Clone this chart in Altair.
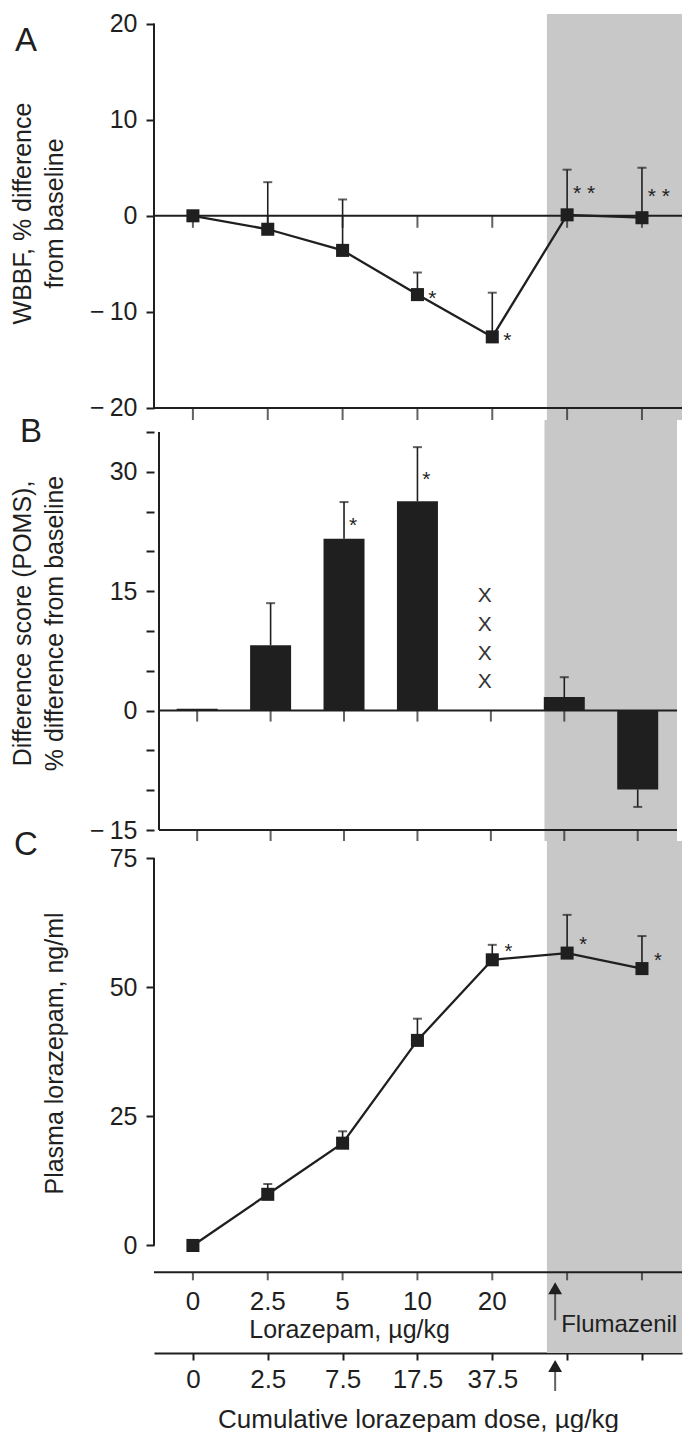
import json
import altair as alt
import pandas as pd

# ---------------- data ----------------
positions = [0, 1, 2, 3, 4, 5, 6]
dose_tick_labels = ["0", "2.5", "5", "10", "20", "", ""]
cumulative_tick_labels = ["0", "2.5", "7.5", "17.5", "37.5", "", ""]

# Panel A: WBBF, % difference from baseline
wbbf_mean = [0.0, -1.4, -3.6, -8.2, -12.6, 0.1, -0.2]
wbbf_upper = [None, 3.5, 1.7, -5.9, -8.0, 4.8, 5.0]
wbbf_sig = ["", "", "", "*", "*", "* *", "* *"]

# Panel B: POMS difference score
poms_positions = [0, 1, 2, 3, 5, 6]
poms_value = [0.25, 8.2, 21.6, 26.3, 1.7, -9.9]
poms_err_end = [None, 13.5, 26.2, 33.1, 4.2, -12.1]
poms_sig = ["", "", "*", "*", "", ""]
poms_missing_position = 4
poms_missing_marks = ["X", "X", "X", "X"]
poms_missing_y = [14.4, 10.7, 7.1, 3.6]

# Panel C: plasma lorazepam, ng/ml
plasma_mean = [0.0, 9.9, 19.8, 39.7, 55.3, 56.6, 53.6]
plasma_upper = [None, 11.9, 22.1, 43.9, 58.2, 64.0, 59.9]
plasma_sig = ["", "", "", "", "*", "*", "*"]

flumazenil_start = 4.73
flumazenil_arrow = 4.84

# ---------------- style / layout ----------------
FONT = "Liberation Sans"
INK = "#1f1f1f"
SHADE = "#c8c8c8"
W = 528
X_LO, X_HI = -0.52, 6.535
A_LO, A_HI, A_H = -21.25, 21.0, 406
B_LO, B_HI, B_H = -16.38, 36.51, 421
C_LO, C_HI, C_H = -20.82, 78.3, 512
LORAZ_AXIS_Y = -5.2

NEG_LABEL = "datum.value < 0 ? '\u2212\u2009' + format(-datum.value, '') : datum.label"

xs = alt.Scale(domain=[X_LO, X_HI], nice=False, zero=False)


def y_axis(values, title, label_expr=NEG_LABEL, title_y=None):
    kw = dict(values=values, title=title, domain=False, grid=False, ticks=True,
              tickSize=8, tickWidth=2, tickColor=INK, labelFont=FONT, labelFontSize=25,
              labelColor=INK, labelPadding=9, labelFlush=False, titleFont=FONT,
              titleFontSize=25, titleFontWeight="normal", titleColor=INK,
              titlePadding=12, titleLineHeight=32, minExtent=75, maxExtent=75,
              labelExpr=label_expr)
    if title_y is not None:
        kw["titleY"] = title_y
    return alt.Axis(**kw)


cum_axis = alt.Axis(values=positions,
                    labelExpr=f"{json.dumps(cumulative_tick_labels)}[datum.value]",
                    title="Cumulative lorazepam dose, µg/kg", domain=True, domainColor=INK,
                    domainWidth=2, ticks=True, tickSize=7, tickWidth=2, tickColor=INK,
                    labelFont=FONT, labelFontSize=26, labelColor=INK, labelPadding=6,
                    labelFlush=False, titleFont=FONT, titleFontSize=26,
                    titleFontWeight="normal", titleColor=INK, titlePadding=14, grid=False)


def make_panel(lo, hi, axis_line_lo, axis_line_hi, yaxis, xaxis, hlines,
               tick_size, letter, letter_dy):
    ys = alt.Scale(domain=[lo, hi], nice=False, zero=False)

    def X(f):
        return alt.X(f"{f}:Q", scale=xs, axis=xaxis)

    def Y(f):
        return alt.Y(f"{f}:Q", scale=ys, axis=yaxis)

    layers = []
    shade_df = pd.DataFrame({"x": [flumazenil_start], "x2": [X_HI], "y": [lo], "y2": [hi]})
    layers.append(alt.Chart(shade_df).mark_rect(color=SHADE).encode(
        x=X("x"), x2="x2", y=Y("y"), y2="y2"))
    hl_df = pd.DataFrame({"x": [X_LO] * len(hlines), "x2": [X_HI] * len(hlines), "y": hlines})
    layers.append(alt.Chart(hl_df).mark_rule(color=INK, strokeWidth=2).encode(
        x=X("x"), x2="x2", y=Y("y")))
    tk_df = pd.DataFrame([{"pos": p, "y": h} for h in hlines for p in positions])
    layers.append(alt.Chart(tk_df).mark_tick(orient="vertical", size=tick_size, thickness=2,
                                             yOffset=tick_size / 2, color=INK).encode(
        x=X("pos"), y=Y("y")))
    ax_df = pd.DataFrame({"x": [X_LO], "y": [axis_line_lo], "y2": [axis_line_hi]})
    layers.append(alt.Chart(ax_df).mark_rule(color=INK, strokeWidth=2).encode(
        x=X("x"), y=Y("y"), y2="y2"))
    let_df = pd.DataFrame({"x": [X_LO], "y": [hi], "t": [letter]})
    layers.append(alt.Chart(let_df).mark_text(font=FONT, fontSize=33, color=INK, dx=-128,
                                              dy=letter_dy, align="center",
                                              baseline="middle").encode(
        x=X("x"), y=Y("y"), text="t:N"))
    return X, Y, layers


# ---------------- Panel A ----------------
XA, YA, la = make_panel(A_LO, A_HI, -20, 20,
                        y_axis([-20, -10, 0, 10, 20], ["WBBF, % difference", "from baseline"],
                               title_y=199),
                        None, [-20, 0], 12, "A", 27)
dfA = pd.DataFrame({"pos": positions, "mean": wbbf_mean, "upper": wbbf_upper, "sig": wbbf_sig})
errA = alt.Chart(dfA).transform_filter("datum.upper != null")
la += [
    errA.mark_rule(color=INK, strokeWidth=1.6).encode(x=XA("pos"), y=YA("mean"), y2="upper"),
    errA.mark_tick(orient="horizontal", size=9, thickness=2, color=INK).encode(
        x=XA("pos"), y=YA("upper")),
    alt.Chart(dfA).mark_line(color=INK, strokeWidth=2.3).encode(x=XA("pos"), y=YA("mean")),
    alt.Chart(dfA).mark_square(color=INK, size=170, opacity=1).encode(x=XA("pos"), y=YA("mean")),
    alt.Chart(dfA).transform_filter("datum.sig == '*'").mark_text(
        font=FONT, fontSize=21, color=INK, dx=15, dy=10, baseline="alphabetic").encode(
        x=XA("pos"), y=YA("mean"), text="sig:N"),
    alt.Chart(dfA).transform_filter("datum.sig == '* *'").mark_text(
        font=FONT, fontSize=21, color=INK, dx=17, dy=-15, baseline="alphabetic").encode(
        x=XA("pos"), y=YA("mean"), text="sig:N"),
]
panelA = alt.layer(*la).properties(width=W, height=A_H)

# ---------------- Panel B ----------------
XB, YB, lb = make_panel(B_LO, B_HI, -15, 35,
                        y_axis(list(range(-15, 40, 5)),
                               ["Difference score (POMS),", "% difference from baseline"],
                               label_expr="datum.value % 15 == 0 ? (" + NEG_LABEL + ") : ''",
                               title_y=203),
                        None, [0, -15], 11, "B", 12)
dfB = pd.DataFrame({"pos": poms_positions, "value": poms_value, "err": poms_err_end,
                    "sig": poms_sig})
errB = alt.Chart(dfB).transform_filter("datum.err != null")
dfX = pd.DataFrame({"pos": [poms_missing_position] * len(poms_missing_y),
                    "y": poms_missing_y, "t": poms_missing_marks})
lb += [
    alt.Chart(dfB).mark_bar(size=41, color=INK, orient="vertical").encode(
        x=XB("pos"), y=YB("value"), y2=alt.datum(0)),
    errB.mark_rule(color=INK, strokeWidth=1.6).encode(x=XB("pos"), y=YB("value"), y2="err"),
    errB.mark_tick(orient="horizontal", size=9, thickness=2, color=INK).encode(
        x=XB("pos"), y=YB("err")),
    alt.Chart(dfB).transform_filter("datum.sig == '*'").transform_calculate(
        mid="(datum.value + datum.err) / 2").mark_text(
        font=FONT, fontSize=21, color=INK, dx=9, dy=12, baseline="alphabetic").encode(
        x=XB("pos"), y=YB("mid"), text="sig:N"),
    alt.Chart(dfX).mark_text(font=FONT, fontSize=21, color="#333333", dx=-6,
                             baseline="middle").encode(x=XB("pos"), y=YB("y"), text="t:N"),
]
panelB = alt.layer(*lb).properties(width=W, height=B_H)

# ---------------- Panel C ----------------
XC, YC, lc = make_panel(C_LO, C_HI, 0, 75,
                        y_axis([0, 25, 50, 75], "Plasma lorazepam, ng/ml", title_y=212),
                        cum_axis, [LORAZ_AXIS_Y], 8, "C", 4)
dfC = pd.DataFrame({"pos": positions, "mean": plasma_mean, "upper": plasma_upper,
                    "sig": plasma_sig})
errC = alt.Chart(dfC).transform_filter("datum.upper != null")
dose_df = pd.DataFrame({"pos": positions, "t": dose_tick_labels, "y": LORAZ_AXIS_Y})
dose_title_df = pd.DataFrame({"pos": [sum(positions[:5]) / 5], "y": [LORAZ_AXIS_Y],
                              "t": ["Lorazepam, µg/kg"]})
flu_df = pd.DataFrame({"pos": [flumazenil_arrow], "y": [LORAZ_AXIS_Y], "t": ["Flumazenil"]})
arrow_low_df = pd.DataFrame({"pos": [flumazenil_arrow], "y": [C_LO]})
lc += [
    errC.mark_rule(color=INK, strokeWidth=1.6).encode(x=XC("pos"), y=YC("mean"), y2="upper"),
    errC.mark_tick(orient="horizontal", size=9, thickness=2, color=INK).encode(
        x=XC("pos"), y=YC("upper")),
    alt.Chart(dfC).mark_line(color=INK, strokeWidth=2.3).encode(x=XC("pos"), y=YC("mean")),
    alt.Chart(dfC).mark_square(color=INK, size=170, opacity=1).encode(x=XC("pos"), y=YC("mean")),
    alt.Chart(dfC).transform_filter("datum.sig == '*'").mark_text(
        font=FONT, fontSize=20, color=INK, dx=16, dy=-2, baseline="alphabetic").encode(
        x=XC("pos"), y=YC("mean"), text="sig:N"),
    alt.Chart(dose_df).mark_text(font=FONT, fontSize=26, color=INK, dy=30,
                                 baseline="middle").encode(x=XC("pos"), y=YC("y"), text="t:N"),
    alt.Chart(dose_title_df).mark_text(font=FONT, fontSize=25, color=INK, dx=7, dy=58,
                                       baseline="middle").encode(
        x=XC("pos"), y=YC("y"), text="t:N"),
    alt.Chart(flu_df).mark_text(font=FONT, fontSize=24, color=INK, dx=6, dy=53, align="left",
                                baseline="middle").encode(x=XC("pos"), y=YC("y"), text="t:N"),
    # upper arrow (shaft + head)
    alt.Chart(flu_df).mark_tick(orient="vertical", size=28, thickness=2, yOffset=34,
                                color=INK).encode(x=XC("pos"), y=YC("y")),
    alt.Chart(flu_df).mark_point(shape="triangle-up", filled=True, size=190, opacity=1,
                                 yOffset=16, color=INK).encode(x=XC("pos"), y=YC("y")),
    # lower arrow
    alt.Chart(arrow_low_df).mark_tick(orient="vertical", size=24, thickness=2, yOffset=26,
                                      color=INK).encode(x=XC("pos"), y=YC("y")),
    alt.Chart(arrow_low_df).mark_point(shape="triangle-up", filled=True, size=190, opacity=1,
                                       yOffset=13, color=INK).encode(x=XC("pos"), y=YC("y")),
]
panelC = alt.layer(*lc).properties(width=W, height=C_H)

chart = alt.vconcat(panelA, panelB, panelC, spacing=0, bounds="flush").properties(
    padding={"left": 2, "top": 3, "right": 0, "bottom": 0}, background="white"
).configure_view(stroke=None)

chart.save("out.html", embed_options={"renderer": "svg", "actions": False})
